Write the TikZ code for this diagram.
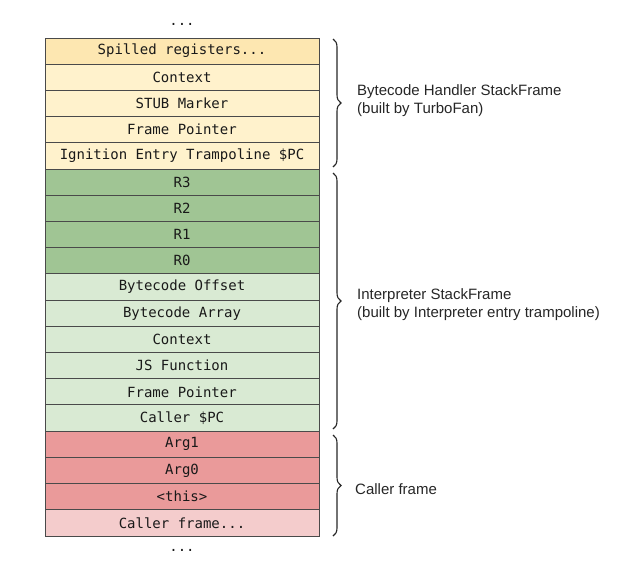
\documentclass[tikz,border=0pt]{standalone}
\usepackage{fontspec}
\setmainfont{Liberation Sans}
\setmonofont{DejaVu Sans Mono}
\usetikzlibrary{positioning,decorations.pathreplacing}
\definecolor{yelD}{HTML}{FDE7B1}
\definecolor{yelL}{HTML}{FFF2CC}
\definecolor{grnD}{HTML}{A0C594}
\definecolor{grnL}{HTML}{D9EAD3}
\definecolor{redD}{HTML}{EA9A9A}
\definecolor{redL}{HTML}{F4CCCC}
\definecolor{edge}{HTML}{4A4A4A}
\tikzset{
  cell/.style={draw=edge, line width=0.9pt, minimum width=274pt, minimum height=26.21pt,
    inner sep=0pt, outer sep=0pt, font=\ttfamily\fontsize{14}{16}\selectfont, text=black!90},
  stackbrace/.style={draw=black!85, line width=1.1pt, decorate, decoration={brace, amplitude=8pt}},
  lbl/.style={anchor=west, align=left, font=\fontsize{15}{18}\selectfont, text=black!85, inner sep=0pt},
  dots/.style={font=\ttfamily\fontsize{14}{16}\selectfont, text=black!90, inner sep=0pt}
}
\begin{document}
\begin{tikzpicture}[x=1pt,y=-1pt]
\useasboundingbox (0,0) rectangle (631,573);
\node[cell, fill=yelD] (r1) at (182,51.1) {Spilled registers...};
\node[cell, fill=yelL, below=0pt of r1] (r2) {Context};
\node[cell, fill=yelL, below=0pt of r2] (r3) {STUB Marker};
\node[cell, fill=yelL, below=0pt of r3] (r4) {Frame Pointer};
\node[cell, fill=yelL, below=0pt of r4] (r5) {Ignition Entry Trampoline \$PC};
\node[cell, fill=grnD, below=0pt of r5] (r6) {R3};
\node[cell, fill=grnD, below=0pt of r6] (r7) {R2};
\node[cell, fill=grnD, below=0pt of r7] (r8) {R1};
\node[cell, fill=grnD, below=0pt of r8] (r9) {R0};
\node[cell, fill=grnL, below=0pt of r9] (r10) {Bytecode Offset};
\node[cell, fill=grnL, below=0pt of r10] (r11) {Bytecode Array};
\node[cell, fill=grnL, below=0pt of r11] (r12) {Context};
\node[cell, fill=grnL, below=0pt of r12] (r13) {JS Function};
\node[cell, fill=grnL, below=0pt of r13] (r14) {Frame Pointer};
\node[cell, fill=grnL, below=0pt of r14] (r15) {Caller \$PC};
\node[cell, fill=redD, below=0pt of r15] (r16) {Arg1};
\node[cell, fill=redD, below=0pt of r16] (r17) {Arg0};
\node[cell, fill=redD, below=0pt of r17] (r18) {<this>};
\node[cell, fill=redL, below=0pt of r18] (r19) {Caller frame...};
\node[dots] (dtop) at (182,24) {...};
\node[dots] (dbot) at (182,550) {...};
\coordinate (b1s) at (333,39);
\coordinate (b1e) at (333,167);
\coordinate (b2s) at (333,173);
\coordinate (b2e) at (333,429);
\coordinate (b3s) at (333,435);
\coordinate (b3e) at (333,536);
\draw[stackbrace] (b1s) -- (b1e);
\draw[stackbrace] (b2s) -- (b2e);
\draw[stackbrace] (b3s) -- (b3e);
\node[lbl] (l1) at (357,101) {Bytecode Handler StackFrame\\(built by TurboFan)};
\node[lbl] (l2) at (357,305) {Interpreter StackFrame\\(built by Interpreter entry trampoline)};
\node[lbl] (l3) at (355,489) {Caller frame};
\end{tikzpicture}
\end{document}
